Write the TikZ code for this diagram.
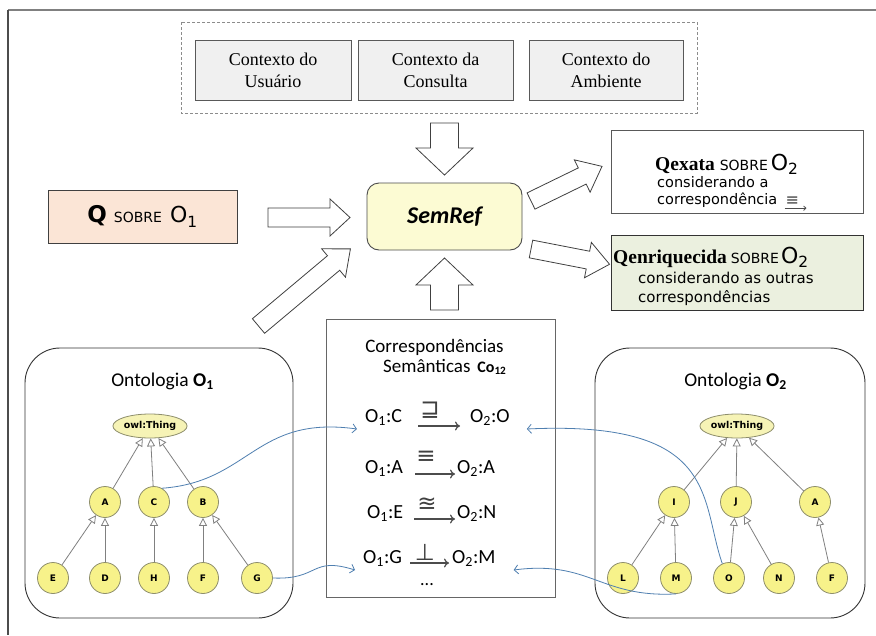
\documentclass[tikz,border=0pt]{standalone}
\usepackage{fontspec}
\setmainfont{Liberation Serif}
\newfontfamily\calfont{Carlito}
\newfontfamily\verdfont{DejaVu Sans}
\newfontfamily\serfont{Liberation Serif}
\usetikzlibrary{arrows.meta,shapes.geometric}

\definecolor{nodeyellow}{HTML}{F7F28A}
\definecolor{owlyellow}{HTML}{F6F3B6}
\definecolor{nodeedge}{HTML}{8E8E6C}
\definecolor{semfill}{HTML}{FCFBD3}
\definecolor{qfill}{HTML}{FBE5D6}
\definecolor{enrfill}{HTML}{EBF0DF}
\definecolor{ctxfill}{HTML}{F0F0F0}
\definecolor{linkblue}{HTML}{4F7FB0}

% hollow block arrow: x, y (tail centre), angle, length, shaft half-width, head half-width, head length
\newcommand\bigarrow[7]{%
  \draw[fatarrow, shift={(#1,#2)}, rotate=#3]
    (0,-#5) -- ({#4-#7},-#5) -- ({#4-#7},-#6) -- (#4,0) -- ({#4-#7},#6) -- ({#4-#7},#5) -- (0,#5) -- cycle;}

\tikzset{
  fatarrow/.style={draw=black!75, fill=white, line width=0.8pt, line join=miter},
  ctxbox/.style={draw=black!65, fill=ctxfill, line width=0.9pt, minimum height=60pt, align=center,
    font=\serfont\fontsize{18}{22}\selectfont},
  cls/.style={circle, draw=nodeedge, fill=nodeyellow, line width=0.8pt, minimum size=31pt, inner sep=0pt,
    font=\verdfont\bfseries\fontsize{9}{10}\selectfont},
  owl/.style={ellipse, draw=nodeedge, fill=owlyellow, line width=0.8pt, minimum width=72pt, minimum height=24pt,
    inner sep=0pt, font=\verdfont\bfseries\fontsize{9.5}{10}\selectfont},
  isa/.style={draw=black!50, line width=0.8pt, -{Triangle[length=8pt, width=8pt, fill=white]}},
  ontbox/.style={draw=black!80, line width=0.9pt, rounded corners=35pt},
  corr/.style={anchor=base west, inner sep=0pt, font=\calfont\fontsize{20}{24}\selectfont},
  rel/.style={draw=black!70, line width=1.2pt, -{To[length=5pt, width=9pt]}},
  relsym/.style={inner sep=0pt, font=\verdfont\fontsize{23}{24}\selectfont, text=black!75},
  link/.style={draw=linkblue, line width=0.8pt, -{Straight Barb[length=4pt, width=9pt]}},
  txt/.style={anchor=base west, inner sep=0pt},
}

\begin{document}
\begin{tikzpicture}[x=1pt, y=-1pt]
\useasboundingbox (0,0) rectangle (876,635);
\fill[white] (0,0) rectangle (876,635);

% outer frame (top and left edges)
\draw[black!50, line width=2pt] (8,10) -- (876,10);
\draw[black!70, line width=2pt] (8,10) -- (8,635);

% context group
\draw[black!45, dashed, dash pattern=on 3pt off 2pt, line width=0.9pt] (181,22) rectangle (697,113);
\node[ctxbox, minimum width=156pt] (ctxU) at (273,70) {Contexto do\\Usuário};
\node[ctxbox, minimum width=155pt] (ctxC) at (435.5,70) {Contexto da\\Consulta};
\node[ctxbox, minimum width=154pt] (ctxA) at (606,70) {Contexto do\\Ambiente};

% central component
\node[draw=black!70, fill=semfill, line width=0.9pt, rounded corners=12pt, minimum width=155pt, minimum height=67pt,
  font=\calfont\bfseries\itshape\fontsize{24}{28}\selectfont] (sem) at (444.5,216.5) {SemRef};

% input query
\node[draw=black!75, fill=qfill, line width=0.9pt, minimum width=189pt, minimum height=53pt] (q) at (142.5,216.5)
  {{\verdfont\bfseries\fontsize{23}{26}\selectfont Q}\hspace{7pt}{\verdfont\fontsize{14}{16}\selectfont SOBRE}\hspace{8pt}{\verdfont\fontsize{22}{26}\selectfont O\textsubscript{1}}};

% output queries
\node[draw=black!65, fill=white, line width=0.9pt, minimum width=252pt, minimum height=83pt] (qx) at (737,171.5) {};
\node[txt] (qx1) at (655,170) {{\serfont\bfseries\fontsize{19.5}{22}\selectfont Qexata}\hspace{5pt}{\verdfont\fontsize{14}{16}\selectfont SOBRE}\hspace{3pt}{\verdfont\fontsize{22}{26}\selectfont O\textsubscript{2}}};
\node[txt, font=\verdfont\fontsize{14.5}{16}\selectfont] (qx2) at (657,187) {considerando a};
\node[txt, font=\verdfont\fontsize{14.5}{16}\selectfont] (qx3) at (657,204) {correspondência};
\node[anchor=base west, inner sep=0pt, font=\verdfont\fontsize{16}{16}\selectfont, text=black!75] (qxsym) at ([xshift=8pt,yshift=-1pt]qx3.base east) {≡};
\draw[draw=black!70, line width=0.8pt, -{To[length=3pt, width=5pt]}] ([xshift=-1pt,yshift=-3pt]qxsym.south west) -- ([xshift=7pt,yshift=-3pt]qxsym.south east);

\node[draw=black!80, fill=enrfill, line width=0.9pt, minimum width=252pt, minimum height=75pt] (qe) at (737,272.5) {};
\node[txt] (qe1) at (613,263) {{\serfont\bfseries\fontsize{19.5}{22}\selectfont Qenriquecida}\hspace{4pt}{\verdfont\fontsize{14}{16}\selectfont SOBRE}\hspace{2pt}{\verdfont\fontsize{22}{26}\selectfont O\textsubscript{2}}};
\node[txt, font=\verdfont\fontsize{15}{18}\selectfont] (qe2) at (638,283) {considerando as outras};
\node[txt, font=\verdfont\fontsize{15}{18}\selectfont] (qe3) at (638,302) {correspondências};

% block arrows
\bigarrow{444.5}{123}{-90}{52}{14}{28.5}{27}
\bigarrow{444.5}{310}{90}{52}{14}{28.5}{27}
\bigarrow{268}{217.5}{0}{82}{9.5}{18.5}{20}
\bigarrow{258.5}{326}{40}{120}{9.5}{18.5}{22}
\bigarrow{531}{201}{26}{79}{9}{18}{22}
\bigarrow{531}{249}{-11}{80}{9}{18}{22}

% semantic correspondences
\draw[draw=black!60, line width=0.9pt] (326,319) rectangle (555,597);
\node[anchor=base, inner sep=0pt, font=\calfont\fontsize{19}{22}\selectfont] (ct1) at (434.5,352) {Correspondências};
\node[anchor=base west, inner sep=0pt, font=\calfont\fontsize{19}{22}\selectfont] (ct2) at (383,372) {Semânticas\hspace{7pt}{\bfseries\fontsize{16}{18}\selectfont Co\textsubscript{12}}};

\node[corr] (r1l) at (365,422) {O\textsubscript{1}:C};
\node[corr] (r1r) at (470,422) {O\textsubscript{2}:O};
\node[relsym] (r1s) at (430,410) {⊒};
\draw[rel] (418,426) -- (460,426);

\node[corr] (r2l) at (365,473) {O\textsubscript{1}:A};
\node[corr] (r2r) at (457,473) {O\textsubscript{2}:A};
\node[relsym] (r2s) at (426,457) {≡};
\draw[rel] (415,474) -- (455,474);

\node[corr] (r3l) at (367,518) {O\textsubscript{1}:E};
\node[corr] (r3r) at (457,518) {O\textsubscript{2}:N};
\node[relsym] (r3s) at (427,505) {≊};
\draw[rel] (414,519) -- (455,519);

\node[corr] (r4l) at (363,563) {O\textsubscript{1}:G};
\node[corr] (r4r) at (452,563) {O\textsubscript{2}:M};
\node[relsym] (r4s) at (425,552) {⊥};
\draw[rel] (410,563) -- (449,563);

\node[anchor=base, inner sep=0pt, font=\calfont\fontsize{18}{20}\selectfont] (dots) at (427,585) {...};

% ontology O1
\draw[ontbox] (25,348) rectangle (293,618);
\node[anchor=base, inner sep=0pt, font=\calfont\fontsize{19.5}{22}\selectfont] (o1title) at (162.5,386) {Ontologia \textbf{O\textsubscript{1}}};
\node[owl] (owl1) at (150,426) {owl:Thing};
\node[cls] (a1) at (105,502) {A};
\node[cls] (c1) at (154,502) {C};
\node[cls] (b1) at (203,502) {B};
\node[cls] (e1) at (53,578) {E};
\node[cls] (d1) at (105,578) {D};
\node[cls] (h1) at (154,578) {H};
\node[cls] (f1) at (203,578) {F};
\node[cls] (g1) at (257,578) {G};
\draw[isa] (a1) -- (owl1);
\draw[isa] (c1) -- (owl1);
\draw[isa] (b1) -- (owl1);
\draw[isa] (e1) -- (a1);
\draw[isa] (d1) -- (a1);
\draw[isa] (h1) -- (c1);
\draw[isa] (f1) -- (b1);
\draw[isa] (g1) -- (b1);

% ontology O2
\draw[ontbox] (595,348) rectangle (865,618);
\node[anchor=base, inner sep=0pt, font=\calfont\fontsize{19.5}{22}\selectfont] (o2title) at (735.5,386) {Ontologia \textbf{O\textsubscript{2}}};
\node[owl] (owl2) at (737,426) {owl:Thing};
\node[cls] (i2) at (674,502) {I};
\node[cls] (j2) at (736,502) {J};
\node[cls] (a2) at (815,502) {A};
\node[cls] (l2) at (623,578) {L};
\node[cls] (m2) at (676,578) {M};
\node[cls] (o2) at (729,578) {O};
\node[cls] (n2) at (779,578) {N};
\node[cls] (f2) at (832,578) {F};
\draw[isa] (i2) -- (owl2);
\draw[isa] (j2) -- (owl2);
\draw[isa] (a2) -- (owl2);
\draw[isa] (l2) -- (i2);
\draw[isa] (m2) -- (i2);
\draw[isa] (o2) -- (j2);
\draw[isa] (n2) -- (j2);
\draw[isa] (f2) -- (a2);

% links between ontology classes and correspondences
\draw[link] (c1.60) .. controls (250,482) and (255,415) .. ([xshift=-8pt,yshift=-7pt]r1l.base west);
\draw[link] (g1.east) .. controls (320,580) and (310,556) .. ([xshift=-8pt,yshift=-7pt]r4l.base west);
\draw[link] (o2.115) .. controls (700,500) and (720,420) .. ([xshift=17pt,yshift=-7pt]r1r.base east);
\draw[link] (m2.south) .. controls (600,598) and (590,560) .. ([xshift=18pt,yshift=-7pt]r4r.base east);
\end{tikzpicture}
\end{document}
